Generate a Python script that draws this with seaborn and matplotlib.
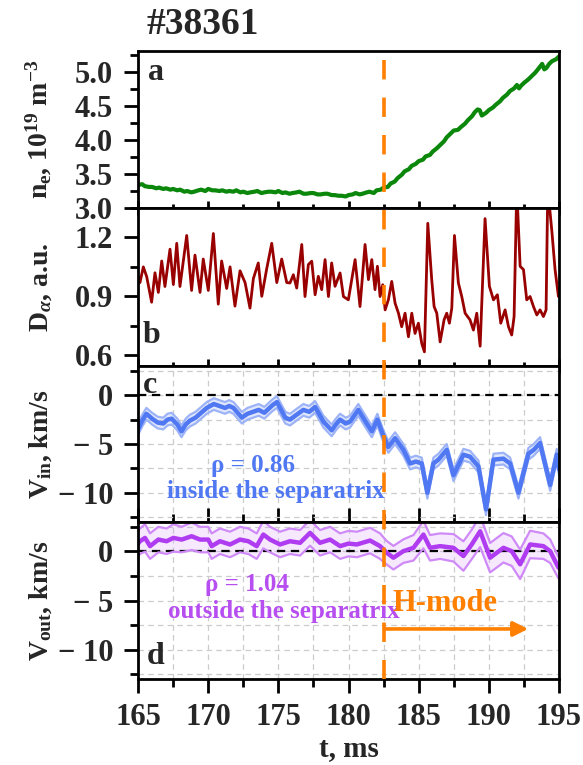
import numpy as np
import pandas as pd
import matplotlib
matplotlib.use("Agg")
import matplotlib.pyplot as plt
import matplotlib.transforms as mtransforms
from matplotlib.lines import Line2D
from matplotlib.ticker import MultipleLocator
import seaborn as sns

# ---------------- data ----------------
shot = "#38361"
t_ne = [165.0, 165.3, 165.5, 165.8, 166.0, 166.3, 166.5, 166.8, 167.0, 167.3, 167.5, 167.8,
        168.0, 168.3, 168.5, 168.8, 169.0, 169.3, 169.5, 169.8, 170.0, 170.3, 170.5, 170.8,
        171.0, 171.3, 171.5, 171.8, 172.0, 172.3, 172.5, 172.8, 173.0, 173.3, 173.5, 173.8,
        174.0, 174.3, 174.5, 174.8, 175.0, 175.3, 175.5, 175.8, 176.0, 176.3, 176.5, 176.8,
        177.0, 177.3, 177.5, 177.8, 178.0, 178.3, 178.5, 178.8, 179.0, 179.3, 179.5, 179.8,
        180.0, 180.3, 180.5, 180.8, 181.0, 181.3, 181.5, 181.8, 182.0, 182.3, 182.5, 182.8,
        183.0, 183.3, 183.5, 183.8, 184.0, 184.3, 184.5, 184.8, 185.0, 185.3, 185.5, 185.8,
        186.0, 186.3, 186.5, 186.8, 187.0, 187.3, 187.5, 187.8, 188.0, 188.3, 188.5, 188.8,
        189.0, 189.2, 189.35, 189.5, 189.8, 190.0, 190.3, 190.5, 190.8, 191.0, 191.3, 191.5,
        191.8, 192.0, 192.15, 192.3, 192.5, 192.8, 193.0, 193.3, 193.5, 193.8, 193.95, 194.1,
        194.3, 194.5, 194.8, 195.0]
ne = [3.34, 3.35, 3.32, 3.31, 3.31, 3.29, 3.30, 3.28, 3.29, 3.27, 3.28, 3.26,
      3.27, 3.24, 3.25, 3.23, 3.24, 3.26, 3.27, 3.25, 3.28, 3.26, 3.26, 3.25,
      3.26, 3.24, 3.25, 3.24, 3.26, 3.23, 3.24, 3.22, 3.23, 3.24, 3.25, 3.22,
      3.23, 3.24, 3.24, 3.23, 3.25, 3.22, 3.23, 3.21, 3.22, 3.23, 3.24, 3.21,
      3.21, 3.22, 3.22, 3.20, 3.20, 3.21, 3.21, 3.19, 3.19, 3.18, 3.18, 3.17,
      3.19, 3.20, 3.22, 3.20, 3.21, 3.23, 3.24, 3.22, 3.26, 3.27, 3.30, 3.31,
      3.36, 3.39, 3.44, 3.49, 3.54, 3.57, 3.62, 3.65, 3.69, 3.71, 3.76, 3.78,
      3.83, 3.88, 3.92, 3.98, 4.04, 4.10, 4.14, 4.15, 4.19, 4.24, 4.29, 4.35,
      4.41, 4.45, 4.44, 4.36, 4.40, 4.44, 4.48, 4.52, 4.57, 4.62, 4.67, 4.72,
      4.76, 4.81, 4.76, 4.80, 4.84, 4.89, 4.93, 4.99, 5.04, 5.12, 5.04, 5.06,
      5.12, 5.16, 5.19, 5.23]

t_da = [165.0, 165.14, 165.38, 165.62, 165.97, 166.21, 166.45, 166.69, 166.92, 167.28, 167.52,
        167.76, 167.99, 168.47, 168.82, 169.06, 169.42, 169.65, 170.01, 170.37, 170.72, 170.96,
        171.32, 171.56, 171.91, 172.27, 172.63, 172.98, 173.22, 173.57, 173.82, 174.17, 174.53,
        174.89, 175.24, 175.60, 175.83, 176.07, 176.31, 176.67, 176.90, 177.14, 177.38, 177.62,
        177.85, 178.09, 178.33, 178.57, 178.80, 179.04, 179.40, 179.64, 179.99, 180.23, 180.47,
        180.82, 181.18, 181.42, 181.66, 181.89, 182.06, 182.25, 182.44, 182.61, 182.84, 183.08,
        183.32, 183.56, 183.79, 184.03, 184.27, 184.51, 184.74, 184.98, 185.22, 185.41, 185.65,
        185.93, 186.10, 186.29, 186.53, 186.81, 187.00, 187.19, 187.36, 187.55, 187.83, 188.07,
        188.31, 188.66, 188.90, 189.14, 189.38, 189.73, 190.04, 190.33, 190.61, 190.85, 191.16,
        191.40, 191.63, 191.80, 191.99, 192.23, 192.47, 192.70, 192.94, 193.18, 193.42, 193.65,
        193.89, 194.08, 194.20, 194.49, 194.72, 194.96]
d_alpha = [1.00, 0.97, 1.05, 1.00, 0.87, 1.02, 0.92, 1.08, 0.95, 1.14, 0.96,
           1.17, 0.95, 1.21, 0.93, 1.11, 0.92, 1.09, 0.93, 1.22, 0.86, 1.08,
           0.94, 1.05, 0.85, 1.03, 0.97, 0.84, 0.99, 1.07, 0.90, 1.04, 1.17,
           0.97, 1.09, 0.97, 0.968, 1.010, 0.942, 1.164, 0.899, 1.062, 1.079, 0.908,
           1.002, 0.934, 1.087, 0.899, 1.070, 0.951, 1.019, 0.899, 0.882, 0.985, 1.087,
           0.848, 1.164, 0.985, 1.087, 0.934, 1.053, 0.899, 0.959, 0.831, 0.882, 0.976,
           0.865, 0.814, 0.745, 0.814, 0.694, 0.814, 0.711, 0.763, 0.660, 0.617, 1.272,
           0.985, 0.848, 0.814, 0.668, 0.780, 0.814, 0.763, 0.840, 1.210, 0.968, 0.899,
           0.814, 0.780, 0.728, 0.814, 0.646, 1.296, 0.951, 0.882, 0.908, 0.763, 0.831,
           0.745, 0.703, 0.797, 1.450, 1.053, 1.036, 0.882, 0.899, 0.848, 0.805, 0.831,
           0.797, 0.831, 1.450, 1.233, 1.036, 0.899]

t_vin = [165.0, 165.3, 165.6, 166.0, 166.4, 166.8, 167.1, 167.4, 167.8, 168.1, 168.4, 168.7,
         169.1, 169.5, 169.9, 170.4, 170.8, 171.2, 171.5, 171.8, 172.1, 172.4, 172.8, 173.2,
         173.6, 174.0, 174.3, 174.6, 174.9, 175.2, 175.5, 175.83, 176.3, 176.78, 177.2, 177.62,
         177.9, 178.21, 178.80, 179.1, 179.40, 179.8, 180.11, 180.70, 181.30, 181.66, 182.06,
         182.49, 182.84, 183.32, 183.91, 184.39, 184.8, 185.22, 185.62, 186.05, 186.41, 187.00,
         187.48, 188.19, 188.66, 189.26, 189.80, 190.33, 191.04, 191.52, 192.11, 192.82, 193.2,
         193.65, 194.37, 194.84, 195.0]
v_in = [-3.5, -2.6, -1.9, -2.4, -2.8, -2.9, -2.5, -2.4, -3.0, -3.7, -3.0, -2.6,
        -2.3, -1.8, -1.3, -0.9, -1.1, -1.3, -1.1, -1.3, -1.8, -2.3, -1.9, -1.7,
        -1.5, -1.8, -1.4, -1.0, -0.7, -1.5, -2.3, -2.5, -2.0, -1.5, -1.7, -1.2,
        -1.9, -2.7, -3.6, -3.0, -2.5, -2.9, -2.7, -1.5, -2.9, -3.7, -2.5,
        -4.2, -5.3, -4.4, -5.6, -7.0, -6.8, -7.0, -10.0, -7.0, -6.6, -5.6,
        -8.2, -6.1, -6.3, -7.3, -11.7, -6.6, -6.5, -7.0, -10.0, -6.0, -5.6,
        -4.9, -9.2, -6.1, -7.6]
v_in_err = 0.6

t_vout = [165.0, 165.14, 165.50, 165.86, 166.45, 167.04, 167.52, 168.11, 168.82, 169.42, 170.01,
          170.25, 170.84, 171.56, 172.27, 172.86, 173.46, 173.93, 174.41, 175.12, 175.83, 176.55,
          177.26, 177.97, 178.69, 179.40, 180.0, 180.59, 181.54, 182.25, 182.72, 183.20, 183.91,
          184.63, 185.34, 185.81, 186.53, 187.48, 188.19, 188.78, 189.38, 190.09, 191.04, 191.63,
          192.23, 192.94, 193.89, 194.37, 194.96]
v_out = [0.8, 1.04, 1.38, 0.54, 1.21, 1.04, 1.38, 1.21, 1.55, 1.21, 1.21,
         0.54, 1.04, 0.71, 1.21, 1.04, 0.54, 1.72, 1.21, 0.71, 1.04, 0.88,
         1.89, 0.88, 1.21, 0.54, 0.80, 0.71, 1.11, 0.54, -0.13, -0.64, 0.03,
         0.37, 1.72, 0.37, 0.54, 0.37, -0.47, 0.71, 2.05, -0.64, 0.37, 0.03,
         -1.31, 0.71, 0.54, 0.03, -1.65]
v_out_err = [1.3, 1.3, 1.4, 1.3, 1.3, 1.3, 1.4, 1.3, 1.4, 1.3, 1.3,
             1.3, 1.3, 1.3, 1.3, 1.3, 1.3, 1.4, 1.3, 1.3, 1.3, 1.3,
             1.3, 1.3, 1.3, 1.3, 1.3, 1.3, 1.3, 1.3, 1.2, 1.2, 1.2,
             1.3, 1.4, 1.3, 1.3, 1.4, 1.5, 1.5, 1.6, 1.5, 1.5, 1.5,
             1.5, 1.4, 1.3, 1.2, 1.1]

t_lh = 182.5
ne_ticks = [3.0, 3.5, 4.0, 4.5, 5.0]
ne_ticklabels = ["3.0", "3.5", "4.0", "4.5", "5.0"]
da_ticks = [0.6, 0.9, 1.2]
da_ticklabels = ["0.6", "0.9", "1.2"]
v_ticks = [-10, -5, 0]
v_ticklabels = ["\u2212 10", "\u2212 5", "0"]
t_ticks = [165, 170, 175, 180, 185, 190, 195]
t_ticklabels = ["165", "170", "175", "180", "185", "190", "195"]

# ---------------- style ----------------
sns.set_style("ticks")
plt.rcParams["font.family"] = ["Liberation Serif", "DejaVu Serif"]
plt.rcParams["font.weight"] = "bold"
plt.rcParams["axes.labelweight"] = "bold"
plt.rcParams["mathtext.fontset"] = "custom"
plt.rcParams["mathtext.rm"] = "Liberation Serif:bold"
plt.rcParams["mathtext.it"] = "Liberation Serif:bold:italic"
plt.rcParams["mathtext.bf"] = "Liberation Serif:bold"
plt.rcParams["lines.scale_dashes"] = False

GREEN = "#0b870b"
DRED = "#990000"
BLUE = "#5078f2"
BLUE_L = "#9db3f7"
PURP = "#b03cf2"
PURP_L = "#cf8af8"
PURP_T = "#b64ef0"
ORANGE = "#ff8000"

W, H = 583, 765
fig = plt.figure(figsize=(W / 100, H / 100), dpi=100)
left = 138 / W
width = (559 - 138) / W
def fy(px):
    return 1 - px / H
bounds = [(51, 208), (208, 366), (366, 522), (522, 679)]
axes = [fig.add_axes([left, fy(b), width, (b - t) / H]) for t, b in bounds]
ax_a, ax_b, ax_c, ax_d = axes

TICKFS = 22
for ax in axes:
    for s in ax.spines.values():
        s.set_linewidth(2.0)
        s.set_color("black")
    ax.set_xlim(165, 195)
    ax.xaxis.set_major_locator(MultipleLocator(5))
    ax.xaxis.set_minor_locator(MultipleLocator(2.5))
    ax.tick_params(axis="both", which="major", length=10, width=2, labelsize=TICKFS, color="black")
    ax.tick_params(axis="both", which="minor", length=5.5, width=2, color="black")
    ax.tick_params(axis="y", which="both", direction="out", left=True, right=False, pad=8)
    ax.tick_params(axis="x", which="both", top=False, bottom=True, labelbottom=False)

ax_a.tick_params(axis="x", which="both", direction="inout")
ax_b.tick_params(axis="x", which="both", direction="inout")
ax_c.tick_params(axis="x", which="both", direction="in")
ax_d.tick_params(axis="x", which="both", direction="out", labelbottom=True, pad=7)
ax_d.set_xticks(t_ticks)
ax_d.set_xticklabels(t_ticklabels)

# Panel a
df_a = pd.DataFrame({"t": t_ne, "ne": ne})
sns.lineplot(data=df_a, x="t", y="ne", ax=ax_a, color=GREEN, linewidth=3.0,
             estimator=None, sort=False)
ax_a.set_ylim(3.0, 5.31)
ax_a.set_yticks(ne_ticks)
ax_a.set_yticklabels(ne_ticklabels)
ax_a.yaxis.set_minor_locator(MultipleLocator(0.25))
ax_a.set_ylabel(r"n$_\mathrm{e}$, 10$^\mathrm{19}$ m$^\mathrm{-3}$", fontsize=20)

# Panel b
df_b = pd.DataFrame({"t": t_da, "da": d_alpha})
sns.lineplot(data=df_b, x="t", y="da", ax=ax_b, color=DRED, linewidth=2.0,
             estimator=None, sort=False)
ax_b.set_ylim(0.545, 1.35)
ax_b.set_yticks(da_ticks)
ax_b.set_yticklabels(da_ticklabels)
ax_b.yaxis.set_minor_locator(MultipleLocator(0.15))
ax_b.set_ylabel(r"D$_\alpha$, a.u.", fontsize=20)

# Panels c, d
def vpanel(ax, t, v, err, col, col_l, lw_main, fill_alpha):
    v = np.asarray(v, float)
    e = np.asarray(err, float) * np.ones_like(v)
    ax.fill_between(t, v - e, v + e, color=col_l, alpha=fill_alpha, linewidth=0)
    df = pd.DataFrame({"t": t, "lo": v - e, "hi": v + e, "v": v})
    sns.lineplot(data=df, x="t", y="hi", ax=ax, color=col_l, linewidth=1.6, estimator=None, sort=False)
    sns.lineplot(data=df, x="t", y="lo", ax=ax, color=col_l, linewidth=1.6, estimator=None, sort=False)
    sns.lineplot(data=df, x="t", y="v", ax=ax, color=col, linewidth=lw_main, estimator=None, sort=False)
    ax.set_ylim(-13, 3)
    ax.set_yticks(v_ticks)
    ax.set_yticklabels(v_ticklabels)
    ax.yaxis.set_minor_locator(MultipleLocator(2.5))
    ax.grid(True, which="both", axis="both", color="#cccccc", linestyle=(0, (4, 3)), linewidth=0.9)
    ax.set_axisbelow(True)
    ax.axhline(0, color="black", linewidth=1.6, linestyle=(0, (6, 4)), zorder=1)

vpanel(ax_c, t_vin, v_in, v_in_err, BLUE, BLUE_L, 3.2, 0.3)
vpanel(ax_d, t_vout, v_out, v_out_err, PURP, PURP_L, 3.2, 0.18)
ax_c.set_ylabel(r"V$_\mathrm{in}$, km/s", fontsize=20)
ax_d.set_ylabel(r"V$_\mathrm{out}$, km/s", fontsize=20)
for ax in (ax_a, ax_b, ax_c):
    ax.set_xlabel("")
ax_d.set_xlabel("t, ms", fontsize=21)
ax_d.xaxis.set_label_coords(0.5, -0.36)
ax_d.xaxis.label.set_va("top")

for ax in axes:
    ax.yaxis.set_label_coords(-0.2, 0.5)

# panel letters
for ax, lab, xf, yf in [(ax_a, "a", 0.043, 0.866), (ax_b, "b", 0.031, 0.19),
                        (ax_c, "c", 0.029, 0.872), (ax_d, "d", 0.043, 0.146)]:
    ax.text(xf, yf, lab, transform=ax.transAxes, fontsize=23, fontweight="bold",
            ha="center", va="center")

# annotations
ax_c.text(173.2, -7.2, "\u03c1 = 0.86", color=BLUE, fontsize=18, fontweight="bold", ha="center", va="center")
ax_c.text(174.8, -9.9, "inside the separatrix", color=BLUE, fontsize=18, fontweight="bold", ha="center", va="center")
ax_d.text(172.8, -3.4, "\u03c1 = 1.04", color=PURP_T, fontsize=18, fontweight="bold", ha="center", va="center")
ax_d.text(175.4, -6.1, "outside the separatrix", color=PURP_T, fontsize=18, fontweight="bold", ha="center", va="center")
ax_d.text(186.9, -5.3, "H-mode", color=ORANGE, fontsize=22, fontweight="bold", ha="center", va="center")
ax_d.annotate("", xy=(192.8, -7.9), xytext=(182.55, -7.9),
              arrowprops=dict(arrowstyle="-|>", color=ORANGE, lw=2.6, mutation_scale=22,
                              shrinkA=0, shrinkB=0))

# L-H transition line across all panels
trans = mtransforms.blended_transform_factory(ax_d.transData, fig.transFigure)
fig.add_artist(Line2D([t_lh, t_lh], [fy(60), fy(679)], transform=trans, color=ORANGE,
                      linewidth=2.6, linestyle=(0, (14, 13)), zorder=10))

fig.text(203 / W, fy(25), shot, fontsize=27, fontweight="bold", ha="center", va="center")

fig.savefig("out.png", dpi=100)
